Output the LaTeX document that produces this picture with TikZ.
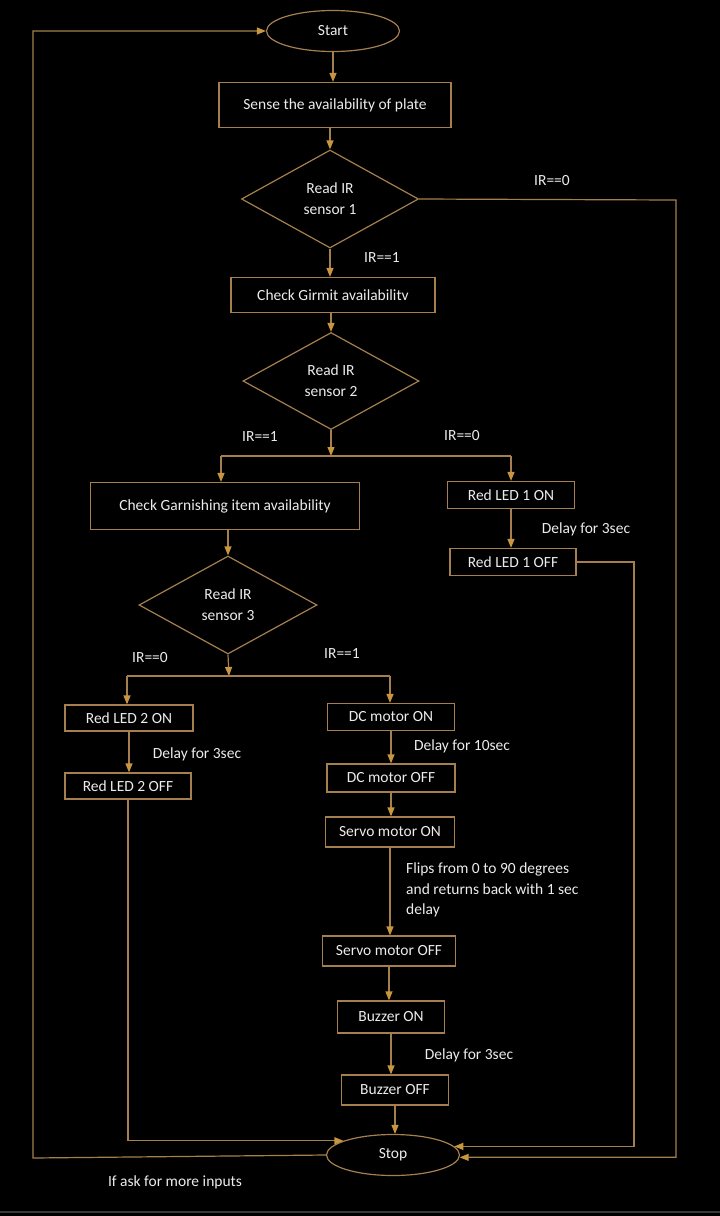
\documentclass[tikz,border=0pt]{standalone}
\usepackage{fontspec}
\setmainfont{Carlito}
\usetikzlibrary{arrows.meta,shapes.geometric,positioning}
\definecolor{flowline}{RGB}{165,128,78}
\definecolor{flowtip}{RGB}{200,150,62}
\definecolor{flowtext}{RGB}{236,236,236}
\tikzset{box/.style={draw=flowline,line width=1.2pt,inner sep=0pt,minimum height=27pt,text=flowtext,align=center},
  dec/.style={draw=flowline,line width=1.2pt,diamond,aspect=1.8,inner sep=0pt,text=flowtext,align=center,
    minimum width=177pt,minimum height=98pt,font=\fontsize{15.5}{21}\selectfont},
  term/.style={draw=flowline,line width=1.2pt,ellipse,inner sep=0pt,minimum width=133pt,minimum height=41pt,text=flowtext},
  lbl/.style={text=flowtext,inner sep=0pt,align=left},
  arr/.style={draw=flowline,line width=1.2pt,-{Triangle[length=9pt,width=7pt,color=flowtip]}},
  ln/.style={draw=flowline,line width=1.2pt}}

\begin{document}
\begin{tikzpicture}[x=1pt,y=-1pt,font=\fontsize{15.5}{18}\selectfont]
\fill[black] (0,0) rectangle (720,1216);
\fill[black!78!white] (0,1211) rectangle (720,1213);
% main column
\node[term] (start) at (333,31) {Start};
\node[box,minimum width=232pt,minimum height=45pt] (sense) at (335,105) {Sense the availability of plate};
\node[dec] (d1) at (330,199) {Read IR\\sensor 1};
\node[box,minimum width=204pt,minimum height=35pt] (girmit) at (333,295) {Check Girmit availabilitv};
\node[dec,minimum width=176pt,minimum height=97pt] (d2) at (331,381) {Read IR\\sensor 2};
\node[box,minimum width=269pt,minimum height=47pt] (garn) at (225,506) {Check Garnishing item availability};
\node[box,minimum width=127pt] (led1on) at (511,495) {Red LED 1 ON};
\node[box,minimum width=126pt] (led1off) at (513,562) {Red LED 1 OFF};
\node[dec,minimum width=178pt] (d3) at (228,605) {Read IR\\sensor 3};
\node[box,minimum width=128pt,minimum height=26pt] (led2on) at (129,718) {Red LED 2 ON};
\node[box,minimum width=126pt,minimum height=26pt] (led2off) at (128,786) {Red LED 2 OFF};
\node[box,minimum width=127pt] (dcon) at (391,717) {DC motor ON};
\node[box,minimum width=128pt,minimum height=28pt] (dcoff) at (391,778) {DC motor OFF};
\node[box,minimum width=129pt,minimum height=30pt] (servon) at (390,832) {Servo motor ON};
\node[box,minimum width=133pt,minimum height=30pt] (servoff) at (389,951) {Servo motor OFF};
\node[box,minimum width=107pt,minimum height=32pt] (buzon) at (391,1017) {Buzzer ON};
\node[box,minimum width=107pt,minimum height=30pt] (buzoff) at (395,1090) {Buzzer OFF};
\node[term] (stop) at (393,1155) {Stop};
% labels
\node[lbl] (c1) at (552,181) {IR==0};
\node[lbl] (c2) at (382,258) {IR==1};
\node[lbl] (c3) at (260,437) {IR==1};
\node[lbl] (c4) at (462,436) {IR==0};
\node[lbl] (c5) at (150,658) {IR==0};
\node[lbl] (c6) at (342,654) {IR==1};
\node[lbl] (w1) at (586,529) {Delay for 3sec};
\node[lbl] (w2) at (197,754) {Delay for 3sec};
\node[lbl] (w3) at (462,746) {Delay for 10sec};
\node[lbl,anchor=west,font=\fontsize{15.5}{20.5}\selectfont] (w4) at (406,890) {Flips from 0 to 90 degrees\\and returns back with 1 sec\\delay};
\node[lbl] (w5) at (469,1055) {Delay for 3sec};
\node[lbl] (more) at (175,1182) {If ask for more inputs};
% junctions
\coordinate (j2) at (331,456); \coordinate (j2l) at (221,456); \coordinate (j2r) at (511,456);
\coordinate (j3) at (229,676); \coordinate (j3l) at (127,676); \coordinate (j3r) at (390,676);
\coordinate (r1) at (676,200); \coordinate (r2) at (634,562); \coordinate (lp) at (33,1158);
% connectors
\draw[arr] (start.south) -- (start.south|-sense.north);
\draw[arr] (d1.north|-sense.south) -- (d1.north);
\draw[arr] (d1.south) -- (d1.south|-girmit.north);
\draw[arr] (d2.north|-girmit.south) -- (d2.north);
\draw[arr] (d2.south) -- (j2);
\draw[ln] (j2l) -- (j2r);
\draw[arr] (j2l) -- (j2l|-garn.north);
\draw[arr] (j2r) -- (j2r|-led1on.north);
\draw[arr] (d3.north|-garn.south) -- (d3.north);
\draw[arr] (d3.south) -- (j3);
\draw[ln] (j3l) -- (j3r);
\draw[arr] (j3l) -- (j3l|-led2on.north);
\draw[arr] (j3r) -- (j3r|-dcon.north);
\foreach \a/\b in {led1on/led1off,led2on/led2off,dcon/dcoff,dcoff/servon,servon/servoff,servoff/buzon,buzon/buzoff,buzoff/stop}
  \draw[arr] (\a.south) -- (\a.south|-\b.north);
\draw[arr] (d1.east) -- (r1) |- (stop.-2);
\draw[arr] (led1off.east) -- (r2) |- (stop.8);
\draw[arr] (led2off.south) |- (stop.164);
\draw[arr] (stop.west) -- (lp) -- (lp|-start.west) -- (start.west);
\end{tikzpicture}
\end{document}
